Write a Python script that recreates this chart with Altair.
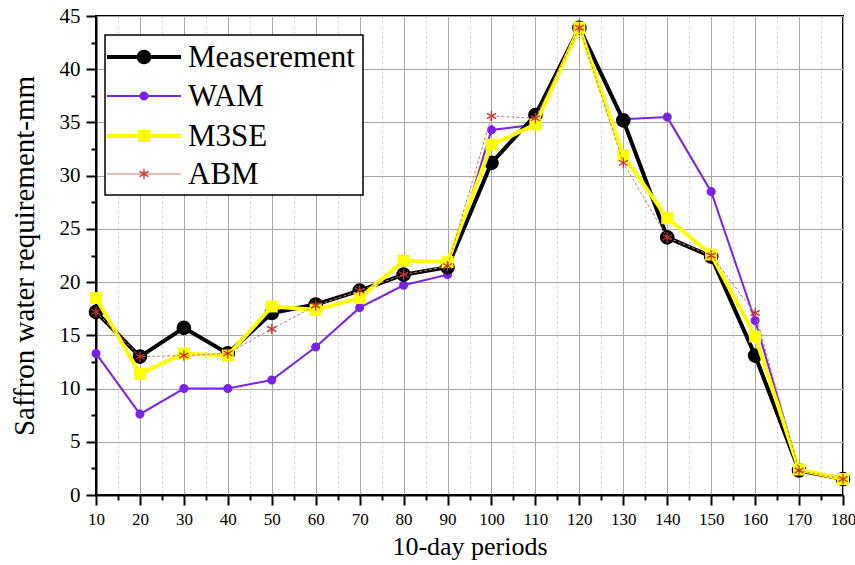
import altair as alt
import pandas as pd

# 10-day periods of the growing season
periods = [10, 20, 30, 40, 50, 60, 70, 80, 90, 100, 110, 120, 130, 140, 150, 160, 170, 180]

# Saffron water requirement (mm) per period
measurement = [17.2, 13.0, 15.7, 13.3, 17.1, 17.9, 19.2, 20.7, 21.4, 31.2, 35.7, 43.9, 35.2, 24.2, 22.4, 13.1, 2.3, 1.5]
wam = [13.3, 7.6, 10.0, 10.0, 10.8, 13.9, 17.6, 19.7, 20.7, 34.3, 34.8, 43.9, 35.3, 35.5, 28.5, 16.4, 2.3, 1.5]
m3se = [18.5, 11.4, 13.3, 13.1, 17.7, 17.4, 18.5, 22.0, 21.9, 32.9, 34.8, 43.9, 31.9, 26.0, 22.6, 14.9, 2.4, 1.5]
abm = [17.2, 13.0, 13.1, 13.3, 15.6, 17.8, 19.2, 20.7, 21.5, 35.6, 35.4, 43.9, 31.2, 24.2, 22.5, 17.1, 2.3, 1.5]

series_names = ["Measerement", "WAM", "M3SE", "ABM"]

x_ticks = list(range(10, 181, 5))
y_ticks = [i * 2.5 for i in range(0, 19)]

SERIF = "'Liberation Serif', 'Times New Roman', 'DejaVu Serif', serif"
ASTERISK = "M0,-1L0,1M-0.87,-0.5L0.87,0.5M-0.87,0.5L0.87,-0.5"

styles = {
    "Measerement": dict(color="black", width=4, shape="circle", size=160, filled=True, dash=[]),
    "WAM": dict(color="#7a22e6", width=2, shape="circle", size=50, filled=True, dash=[]),
    "M3SE": dict(color="#ffff00", width=4, shape="square", size=100, filled=True, dash=[]),
    "ABM": dict(color="#c87a7a", width=1, shape=ASTERISK, size=110, filled=False, dash=[3, 2],
                mcolor="#d0302a"),
}
values = {"Measerement": measurement, "WAM": wam, "M3SE": m3se, "ABM": abm}

x_enc = alt.X(
    "period:Q",
    scale=alt.Scale(domain=[10, 180], nice=False, zero=False),
    axis=alt.Axis(
        title="10-day periods",
        values=x_ticks,
        labelExpr="datum.value % 10 === 0 ? datum.label : ''",
        labelOverlap=False,
        labelFlush=False,
        labelFont=SERIF,
        labelFontSize=17,
        labelColor="black",
        labelPadding=6,
        titleFont=SERIF,
        titleFontSize=26,
        titleFontWeight="normal",
        titleColor="black",
        titlePadding=6,
        domainColor="black",
        domainWidth=2,
        tickColor="black",
        tickWidth=2,
        tickSize={"condition": {"test": "datum.value % 10 === 0", "value": 10}, "value": 5},
        grid=True,
        gridColor={"condition": {"test": "datum.value % 10 === 0", "value": "#a6a6a6"}, "value": "#cfcfcf"},
        gridDash={"condition": {"test": "datum.value % 10 === 0", "value": []}, "value": [2, 3]},
        gridWidth=1,
    ),
)

y_enc = alt.Y(
    "value:Q",
    scale=alt.Scale(domain=[0, 45], nice=False),
    axis=alt.Axis(
        title="Saffron water requirement-mm",
        values=y_ticks,
        labelExpr="datum.value % 5 === 0 ? datum.label : ''",
        labelOverlap=False,
        labelFlush=False,
        labelFont=SERIF,
        labelFontSize=21,
        labelColor="black",
        labelPadding=6,
        titleFont=SERIF,
        titleFontSize=29,
        titleFontWeight="normal",
        titleColor="black",
        titlePadding=20,
        domainColor="black",
        domainWidth=2,
        tickColor="black",
        tickWidth=2,
        tickSize={"condition": {"test": "datum.value % 5 === 0", "value": 10}, "value": 5},
        grid=True,
        gridColor="#a6a6a6",
        gridOpacity={"condition": {"test": "datum.value % 5 === 0", "value": 1}, "value": 0},
        gridWidth=1,
    ),
)

layers = []
for name in ["WAM", "Measerement", "M3SE", "ABM"]:
    st = styles[name]
    df = pd.DataFrame({"period": periods, "value": values[name]})
    base = alt.Chart(df)
    line = base.mark_line(color=st["color"], strokeWidth=st["width"], strokeDash=st["dash"]).encode(x=x_enc, y=y_enc)
    mcol = st.get("mcolor", st["color"])
    if st["filled"]:
        pts = base.mark_point(shape=st["shape"], size=st["size"], filled=True, fill=mcol,
                              stroke=mcol, opacity=1).encode(x=x_enc, y=y_enc)
    else:
        pts = base.mark_point(shape=st["shape"], size=st["size"], filled=False, stroke=mcol,
                              strokeWidth=1.3, opacity=1).encode(x=x_enc, y=y_enc)
    layers += [line, pts]

# Legend drawn inside the plot area, top-left
legend_box = alt.Chart(pd.DataFrame({"k": [0]})).mark_rect(
    fill="white", stroke="black", strokeWidth=1.5
).encode(x=alt.value(9), x2=alt.value(267), y=alt.value(19), y2=alt.value(179))
layers.append(legend_box)

row_y = [41, 80, 120, 158]
for name, yy in zip(series_names, row_y):
    st = styles[name]
    ldf = pd.DataFrame({"label": [name]})
    lbase = alt.Chart(ldf)
    lcolor = st["color"]
    lw = st["width"]
    layers.append(
        lbase.mark_rule(color=lcolor, strokeWidth=lw if name != "ABM" else 1, opacity=1).encode(
            x=alt.value(11), x2=alt.value(85), y=alt.value(yy)
        )
    )
    mcol = st.get("mcolor", st["color"])
    if st["filled"]:
        layers.append(
            lbase.mark_point(shape=st["shape"], size=st["size"], filled=True, fill=mcol,
                             stroke=mcol, opacity=1).encode(x=alt.value(48), y=alt.value(yy))
        )
    else:
        layers.append(
            lbase.mark_point(shape=st["shape"], size=st["size"], filled=False, stroke=mcol,
                             strokeWidth=1.3, opacity=1).encode(x=alt.value(48), y=alt.value(yy))
        )
    layers.append(
        lbase.mark_text(align="left", baseline="middle", font=SERIF, fontSize=31, color="black", dy=1).encode(
            x=alt.value(92), y=alt.value(yy), text="label:N"
        )
    )

chart = (
    alt.layer(*layers)
    .properties(
        width=747,
        height=479,
        autosize=alt.AutoSizeParams(type="none"),
        padding={"left": 96, "top": 16, "right": 12, "bottom": 70},
        background="white",
    )
    .configure_view(stroke="black", strokeWidth=2)
)

chart.save("out.html", embed_options={"renderer": "svg", "actions": False})
